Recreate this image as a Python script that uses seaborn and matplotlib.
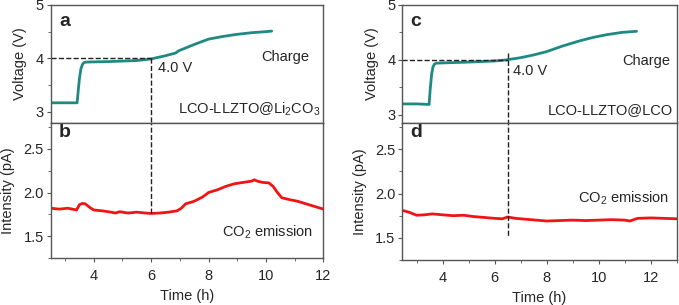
import matplotlib
matplotlib.use('Agg')
import matplotlib.pyplot as plt
from matplotlib.ticker import MultipleLocator
import pandas as pd
import numpy as np
import seaborn as sns

sns.set_style('ticks')
plt.rcParams['font.family'] = ['Liberation Sans', 'DejaVu Sans']
plt.rcParams['mathtext.fontset'] = 'custom'
plt.rcParams['mathtext.rm'] = 'Liberation Sans'

# Dados
# (a) tensao LCO-LLZTO@Li2CO3
tempo_a = [2.5, 3.0, 3.42, 3.45, 3.5, 3.55, 3.6, 3.65, 3.72, 4.0, 4.5, 5.0, 5.5, 6.0,
           6.5, 6.85, 6.95, 7.5, 8.0, 8.5, 9.0, 9.5, 10.0, 10.2]
tensao_a = [3.17, 3.17, 3.17, 3.35, 3.62, 3.8, 3.88, 3.92, 3.93, 3.935, 3.94, 3.95, 3.96, 3.99,
            4.05, 4.1, 4.14, 4.26, 4.36, 4.41, 4.45, 4.48, 4.5, 4.51]
# (b) CO2 LCO-LLZTO@Li2CO3
tempo_b = [2.5, 2.8, 3.1, 3.4, 3.5, 3.6, 3.7, 3.8, 3.9, 4.0, 4.3, 4.6, 4.75, 4.9, 5.2, 5.5,
           5.8, 6.0, 6.3, 6.6, 6.9, 7.05, 7.2, 7.5, 7.8, 8.0, 8.3, 8.6, 8.9, 9.2, 9.5, 9.6,
           9.7, 9.9, 10.1, 10.25, 10.4, 10.55, 10.8, 11.1, 11.4, 11.7, 12.0]
co2_b = [1.82, 1.81, 1.82, 1.80, 1.86, 1.875, 1.87, 1.845, 1.82, 1.80, 1.79, 1.775, 1.765,
         1.78, 1.765, 1.775, 1.765, 1.76, 1.765, 1.775, 1.79, 1.82, 1.87, 1.9, 1.95, 2.0,
         2.03, 2.07, 2.1, 2.115, 2.13, 2.145, 2.13, 2.115, 2.11, 2.07, 2.0, 1.94, 1.92,
         1.9, 1.87, 1.84, 1.81]
# (c) tensao LCO-LLZTO@LCO
tempo_c = [2.45, 3.0, 3.48, 3.52, 3.58, 3.63, 3.68, 3.75, 4.0, 5.0, 6.0, 6.45, 7.0, 7.5,
           8.0, 8.6, 9.3, 9.8, 10.33, 10.9, 11.46]
tensao_c = [3.2, 3.2, 3.19, 3.45, 3.75, 3.87, 3.92, 3.94, 3.945, 3.96, 3.98, 4.0, 4.04, 4.09,
            4.15, 4.25, 4.35, 4.41, 4.46, 4.5, 4.52]
# (d) CO2 LCO-LLZTO@LCO
tempo_d = [2.45, 2.7, 3.0, 3.3, 3.6, 4.0, 4.4, 4.8, 5.2, 5.6, 6.0, 6.3, 6.5, 6.8, 7.2, 7.6,
           8.0, 8.5, 9.0, 9.5, 10.0, 10.5, 11.0, 11.2, 11.5, 12.0, 12.5, 13.0]
co2_d = [1.81, 1.79, 1.755, 1.76, 1.77, 1.76, 1.75, 1.755, 1.74, 1.73, 1.72, 1.715, 1.735,
         1.72, 1.71, 1.70, 1.69, 1.695, 1.70, 1.695, 1.70, 1.705, 1.70, 1.69, 1.72, 1.725,
         1.72, 1.715]

cor_v = '#1f8a82'
cor_co2 = '#f01414'
cinza = '#555555'

fig = plt.figure(figsize=(6.79, 3.05), dpi=100)
ax_a = fig.add_axes([0.0747, 0.598, 0.4015, 0.386])
ax_b = fig.add_axes([0.0747, 0.154, 0.4015, 0.444])
ax_c = fig.add_axes([0.5925, 0.598, 0.404, 0.386])
ax_d = fig.add_axes([0.5925, 0.1475, 0.404, 0.4505])

sns.lineplot(x=tempo_a, y=tensao_a, ax=ax_a, color=cor_v, lw=2)
sns.lineplot(x=tempo_b, y=co2_b, ax=ax_b, color=cor_co2, lw=2)
sns.lineplot(x=tempo_c, y=tensao_c, ax=ax_c, color=cor_v, lw=2)
sns.lineplot(x=tempo_d, y=co2_d, ax=ax_d, color=cor_co2, lw=2)

for ax_v, ax_i, xlim, ylv in [(ax_a, ax_b, (2.5, 12), (2.8, 5.0)), (ax_c, ax_d, (2.45, 13), (2.86, 5.0))]:
    for ax in (ax_v, ax_i):
        ax.set_xlim(*xlim)
        for s in ax.spines.values():
            s.set_color(cinza)
            s.set_linewidth(1)
        ax.tick_params(which='both', direction='out', color=cinza, labelsize=10.5,
                       top=False, right=False)
        ax.tick_params(which='major', length=3)
        ax.tick_params(which='minor', length=2)
        ax.tick_params(axis='x', pad=5)
        ax.tick_params(axis='y', pad=2)
        ax.xaxis.set_major_locator(MultipleLocator(2))
        ax.xaxis.set_minor_locator(MultipleLocator(1))
    ax_v.set_ylim(*ylv)
    ax_v.yaxis.set_major_locator(MultipleLocator(1))
    ax_v.yaxis.set_minor_locator(MultipleLocator(0.5))
    ax_v.set_xticklabels([])
    ax_v.tick_params(axis='x', which='both', length=0)
    ax_i.set_ylim(1.25, 2.8)
    ax_i.yaxis.set_major_locator(MultipleLocator(0.5))
    ax_i.yaxis.set_minor_locator(MultipleLocator(0.25))
    ax_i.yaxis.set_major_formatter(matplotlib.ticker.FormatStrFormatter('%.1f'))
    ax_v.set_ylabel('Voltage (V)', fontsize=10.5, labelpad=6)
    ax_i.set_ylabel('Intensity (pA)', fontsize=10.5, labelpad=6)
    ax_i.set_xlabel('Time (h)', fontsize=10.5, labelpad=4)

# linhas tracejadas
ax_a.plot([2.5, 6], [4, 4], ls='--', color='#222222', lw=1)
ax_a.plot([6, 6], [4, 2.0], ls='--', color='#222222', lw=1)
ax_b.plot([6, 6], [3.0, 1.74], ls='--', color='#222222', lw=1)
ax_c.plot([2.45, 6.5], [4, 4], ls='--', color='#222222', lw=1)
ax_c.plot([6.5, 6.5], [4.13, 2.0], ls='--', color='#222222', lw=1)
ax_d.plot([6.5, 6.5], [3.0, 1.52], ls='--', color='#222222', lw=1)

# textos
ax_a.text(0.03, 0.93, 'a', transform=ax_a.transAxes, fontsize=14, fontweight='bold', va='top')
ax_b.text(0.03, 0.99, 'b', transform=ax_b.transAxes, fontsize=14, fontweight='bold', va='top')
ax_c.text(0.03, 0.93, 'c', transform=ax_c.transAxes, fontsize=14, fontweight='bold', va='top')
ax_d.text(0.03, 0.99, 'd', transform=ax_d.transAxes, fontsize=14, fontweight='bold', va='top')

ax_a.text(11.5, 4.03, 'Charge', fontsize=10.5, ha='right', va='center')
ax_c.text(12.75, 3.98, 'Charge', fontsize=10.5, ha='right', va='center')
ax_a.text(6.25, 3.82, '4.0 V', fontsize=10.5, ha='left', va='center')
ax_c.text(6.7, 3.8, '4.0 V', fontsize=10.5, ha='left', va='center')
ax_a.text(11.9, 3.05, 'LCO-LLZTO@Li$_2$CO$_3$', fontsize=10.5, ha='right', va='center')
ax_c.text(12.85, 3.09, 'LCO-LLZTO@LCO', fontsize=10.5, ha='right', va='center')
ax_b.text(11.65, 1.55, 'CO$_2$ emission', fontsize=10.5, ha='right', va='center')
ax_d.text(12.7, 1.95, 'CO$_2$ emission', fontsize=10.5, ha='right', va='center')

fig.savefig('out.png', dpi=100)
